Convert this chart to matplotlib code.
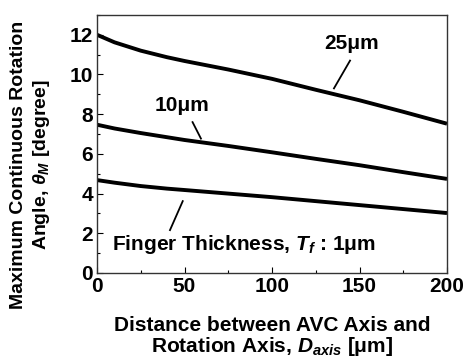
import matplotlib
matplotlib.use('Agg')
import matplotlib.pyplot as plt
from matplotlib.ticker import MultipleLocator

plt.rcParams['font.family'] = ['Liberation Sans', 'DejaVu Sans']
plt.rcParams['font.weight'] = 'bold'
plt.rcParams['mathtext.fontset'] = 'custom'
plt.rcParams['mathtext.it'] = 'Liberation Sans:italic:bold'
plt.rcParams['mathtext.rm'] = 'Liberation Sans:bold'

# distance D_axis [um]
d_axis = [0, 10, 25, 40, 50, 75, 100, 125, 150, 175, 200]
# max rotation angle [degree] for each finger thickness
t25 = [12.0, 11.62, 11.2, 10.87, 10.68, 10.25, 9.78, 9.23, 8.70, 8.12, 7.52]
t10 = [7.47, 7.28, 7.05, 6.84, 6.70, 6.40, 6.08, 5.75, 5.43, 5.08, 4.74]
t1 = [4.68, 4.55, 4.38, 4.25, 4.18, 4.00, 3.82, 3.62, 3.42, 3.22, 3.02]

fig = plt.figure(figsize=(4.65, 3.64), dpi=100)
ax = fig.add_axes([0.2086, 0.25, 0.7527, 0.709])

for y in (t25, t10, t1):
    ax.plot(d_axis, y, color='black', lw=2.8, solid_capstyle='butt')

ax.set_xlim(0, 200)
ax.set_ylim(0, 13)
ax.xaxis.set_major_locator(MultipleLocator(50))
ax.xaxis.set_minor_locator(MultipleLocator(25))
ax.yaxis.set_major_locator(MultipleLocator(2))
ax.yaxis.set_minor_locator(MultipleLocator(1))
ax.tick_params(which='both', direction='in', top=False, right=False, labelsize=15, pad=3)
ax.tick_params(which='major', length=4, width=0.8)
ax.tick_params(which='minor', length=2.5, width=0.8)
for s in ax.spines.values():
    s.set_color('#333333')
    s.set_linewidth(1.0)

ax.set_xlabel('Distance between AVC Axis and\nRotation Axis, $D_{axis}$ [μm]',
              fontsize=15, fontweight='bold', labelpad=14, linespacing=1.0)
ax.set_ylabel('Maximum Continuous Rotation\nAngle, $\\theta_M$ [degree]',
              fontsize=14, fontweight='bold', linespacing=1.25)
ax.yaxis.set_label_coords(-0.128, 0.42)

ax.text(145.5, 11.55, '25μm', ha='center', va='center', fontsize=15, fontweight='bold')
ax.plot([144.6, 135.4], [10.7, 9.3], color='black', lw=1.3)
ax.text(48.6, 8.45, '10μm', ha='center', va='center', fontsize=15, fontweight='bold')
ax.plot([54.6, 59.4], [7.6, 6.77], color='black', lw=1.3)
ax.text(8.5, 1.45, 'Finger Thickness, $T_f$ : 1μm', ha='left', va='center',
        fontsize=15, fontweight='bold')
ax.plot([41.7, 49.0], [2.16, 3.62], color='black', lw=1.3)

fig.savefig('out.png', dpi=100)
